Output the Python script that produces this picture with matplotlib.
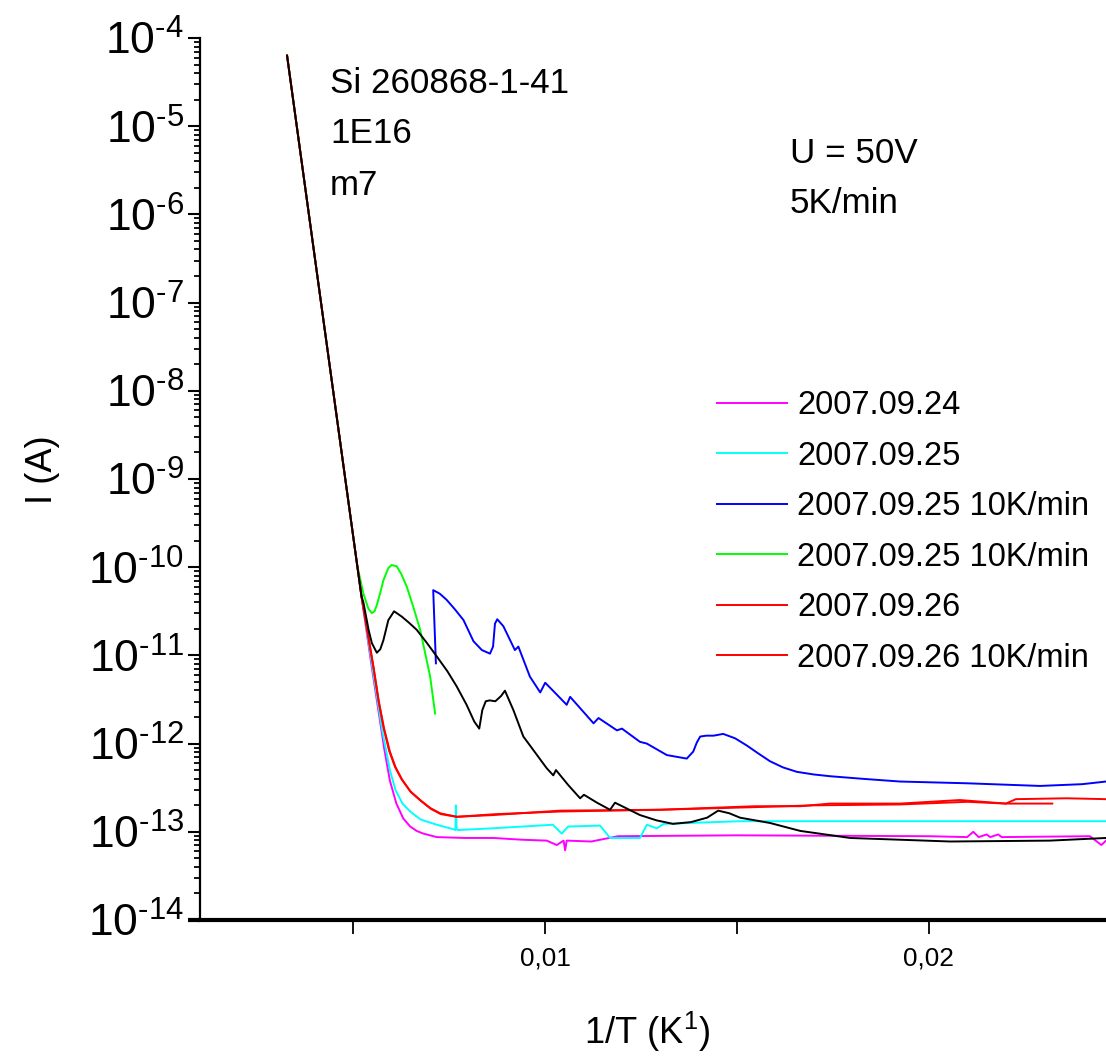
import matplotlib
matplotlib.use("Agg")
import matplotlib.pyplot as plt
from matplotlib import font_manager
from matplotlib.ticker import FixedLocator, LogLocator, FuncFormatter, NullFormatter
import numpy as np

# --- data (1/T in K^-1, log10 of current in A) ---
steep_x = [0.00327, 0.00400, 0.00480, 0.00521]
steep_log = [-4.20, -6.51, -9.04, -10.33]

magenta_x = steep_x + [0.00545, 0.00565, 0.00580, 0.00595, 0.00612, 0.00630, 0.00648, 0.00665, 0.00682,
                       0.00717, 0.00790, 0.00865, 0.00940, 0.01004, 0.01030, 0.01048, 0.01052, 0.01056,
                       0.01120, 0.01190, 0.01500, 0.02000, 0.02100, 0.02116, 0.02130, 0.02151, 0.02160,
                       0.02181, 0.02190, 0.02420, 0.02450, 0.02462]
magenta_log = steep_log + [-11.05, -11.62, -12.05, -12.42, -12.68, -12.85, -12.94, -12.99, -13.02,
                           -13.06, -13.07, -13.07, -13.09, -13.10, -13.15, -13.10, -13.21, -13.10,
                           -13.11, -13.05, -13.04, -13.05, -13.06, -13.00, -13.06, -13.03, -13.06,
                           -13.03, -13.06, -13.05, -13.15, -13.10]

cyan_x = steep_x + [0.00550, 0.00575, 0.00595, 0.00610, 0.00628, 0.00648, 0.00675, 0.00717, 0.00760,
                    0.00766, 0.00767, 0.00769, 0.00772, 0.00865, 0.01020, 0.01043, 0.01060, 0.01143,
                    0.01169, 0.01247, 0.01265, 0.01291, 0.01309, 0.01508, 0.02000, 0.02462]
cyan_log = steep_log + [-11.15, -11.85, -12.30, -12.53, -12.68, -12.77, -12.86, -12.92, -12.97,
                        -12.98, -12.70, -12.97, -12.98, -12.96, -12.92, -13.02, -12.94, -12.93,
                        -13.07, -13.07, -12.92, -12.96, -12.91, -12.88, -12.88, -12.88]

blue_x = [0.00715, 0.00708, 0.00725, 0.00743, 0.00765, 0.00787, 0.00813, 0.00835, 0.00856, 0.00864,
          0.00869, 0.00875, 0.00891, 0.00921, 0.00930, 0.00960, 0.00987, 0.01000, 0.01018, 0.01056,
          0.01065, 0.01126, 0.01139, 0.01187, 0.01200, 0.01247, 0.01265, 0.01317, 0.01369, 0.01386,
          0.01395, 0.01404, 0.01420, 0.01439, 0.01464, 0.01495, 0.01525, 0.01555, 0.01586, 0.01620,
          0.01656, 0.01700, 0.01743, 0.01830, 0.01925, 0.02100, 0.02290, 0.02400, 0.02462]
blue_log = [-11.09, -10.26, -10.30, -10.37, -10.48, -10.60, -10.84, -10.94, -10.98, -10.90,
            -10.64, -10.59, -10.67, -10.94, -10.90, -11.24, -11.42, -11.31, -11.39, -11.56,
            -11.47, -11.77, -11.71, -11.85, -11.83, -11.98, -12.00, -12.13, -12.17, -12.09,
            -11.99, -11.92, -11.91, -11.91, -11.89, -11.94, -12.02, -12.11, -12.20, -12.27,
            -12.32, -12.35, -12.37, -12.40, -12.43, -12.45, -12.48, -12.46, -12.43]

green_x = steep_x[:3] + [0.00509, 0.00526, 0.00539, 0.00548, 0.00555, 0.00561, 0.00570, 0.00578, 0.00591,
                         0.005995, 0.00613, 0.00625, 0.00639, 0.00656, 0.00674, 0.00700, 0.00713]
green_log = steep_log[:3] + [-9.96, -10.30, -10.47, -10.52, -10.50, -10.43, -10.29, -10.15, -10.01,
                             -9.975, -9.99, -10.08, -10.22, -10.45, -10.71, -11.24, -11.66]

red_x = steep_x + [0.00552, 0.00565, 0.00578, 0.00593, 0.00608, 0.00625, 0.00648, 0.00674, 0.00700,
                   0.00726, 0.00769, 0.00865, 0.01039, 0.01300, 0.01547, 0.01665, 0.01743, 0.01925,
                   0.02081, 0.02201, 0.02227, 0.02360, 0.02462]
red_log = steep_log + [-11.13, -11.50, -11.81, -12.08, -12.26, -12.40, -12.54, -12.64, -12.73,
                       -12.79, -12.83, -12.81, -12.76, -12.75, -12.71, -12.71, -12.68, -12.68,
                       -12.64, -12.68, -12.63, -12.62, -12.63]

red2_x = steep_x + [0.00553, 0.00566, 0.00580, 0.00595, 0.00610, 0.00627, 0.00650, 0.00676, 0.00702,
                    0.00728, 0.00770, 0.00870, 0.01040, 0.01300, 0.01550, 0.01700, 0.01925, 0.02100,
                    0.02200, 0.02322]
red2_log = steep_log + [-11.15, -11.52, -11.83, -12.09, -12.27, -12.41, -12.55, -12.65, -12.74,
                        -12.80, -12.83, -12.80, -12.77, -12.75, -12.72, -12.70, -12.69, -12.66,
                        -12.68, -12.68]

black_x = steep_x + [0.00526, 0.00540, 0.00548, 0.00561, 0.00570, 0.00578, 0.00591, 0.00606, 0.00626,
                     0.00645, 0.00665, 0.00690, 0.00717, 0.00745, 0.00769, 0.00795, 0.00815, 0.00828,
                     0.00836, 0.00845, 0.00855, 0.00870, 0.00885, 0.00895, 0.00917, 0.00943, 0.00960,
                     0.01004, 0.01021, 0.01028, 0.01060, 0.01091, 0.01101, 0.01135, 0.01169, 0.01182,
                     0.01247, 0.01290, 0.01333, 0.01380, 0.01422, 0.01451, 0.01480, 0.01508, 0.01586,
                     0.01665, 0.01795, 0.02056, 0.02316, 0.02462]
black_log = steep_log + [-10.40, -10.72, -10.86, -10.97, -10.93, -10.83, -10.60, -10.50, -10.56,
                         -10.63, -10.71, -10.85, -11.01, -11.18, -11.35, -11.56, -11.75, -11.83,
                         -11.62, -11.52, -11.51, -11.52, -11.46, -11.40, -11.62, -11.92, -12.02,
                         -12.28, -12.36, -12.30, -12.47, -12.62, -12.58, -12.67, -12.75, -12.67,
                         -12.81, -12.87, -12.91, -12.89, -12.84, -12.76, -12.79, -12.84, -12.90,
                         -12.99, -13.07, -13.11, -13.10, -13.07]

series = [
    (magenta_x, magenta_log, "#ff00ff", "2007.09.24"),
    (cyan_x, cyan_log, "#00ffff", "2007.09.25"),
    (blue_x, blue_log, "#0000ff", "2007.09.25 10K/min"),
    (green_x, green_log, "#00ff00", "2007.09.25 10K/min"),
    (red_x, red_log, "#ff0000", "2007.09.26"),
    (red2_x, red2_log, "#ff0000", "2007.09.26 10K/min"),
    (black_x, black_log, "#000000", None),
]

x_major = [0.01, 0.02]
x_minor = [0.005, 0.015]

# --- fonts: narrow Arial-like if available ---
names = {f.name for f in font_manager.fontManager.ttflist}
NARROW = "Liberation Sans Narrow" in names
FONT = "Liberation Sans Narrow" if NARROW else "Liberation Sans"
k = 1.0 if NARROW else 0.9
plt.rcParams["font.family"] = [FONT, "DejaVu Sans"]
plt.rcParams["mathtext.fontset"] = "custom"
plt.rcParams["mathtext.rm"] = FONT


def ylabel_fmt(v, pos):
    n = abs(round(np.log10(v)))
    return "$\\mathregular{10^{\u2010%d}}$" % n


W, H = 1106, 1061
fig = plt.figure(figsize=(W / 100, H / 100), dpi=100)
ax = fig.add_axes([200 / W, (H - 920) / H, 906 / W, (920 - 38) / H])

for xs, logs, color, label in series:
    ax.plot(xs, 10 ** np.array(logs), color=color, lw=1.4, label=label if label else "_nolegend_")

ax.set_yscale("log")
ax.set_xlim(0.001, 0.02462)
ax.set_ylim(1e-14, 1e-4)

ax.spines["top"].set_visible(False)
ax.spines["right"].set_visible(False)
ax.spines["left"].set_linewidth(1.6)
ax.spines["bottom"].set_linewidth(3.0)
ax.plot([-0.013, 0], [0, 0], transform=ax.transAxes, color="black", lw=3.0, clip_on=False,
        solid_capstyle="butt")

ax.xaxis.set_major_locator(FixedLocator(x_major))
ax.xaxis.set_minor_locator(FixedLocator(x_minor))
ax.xaxis.set_major_formatter(FuncFormatter(lambda v, p: f"{v:.2f}".replace(".", ",")))
ax.tick_params(axis="x", which="both", direction="out", length=10, width=1.3, pad=9,
               labelsize=21 * k)

ax.yaxis.set_major_locator(LogLocator(base=10, numticks=20))
ax.yaxis.set_minor_locator(LogLocator(base=10, subs=np.arange(2, 10), numticks=20))
ax.yaxis.set_minor_formatter(NullFormatter())
ax.yaxis.set_major_formatter(FuncFormatter(ylabel_fmt))
ax.tick_params(axis="y", which="major", direction="out", length=8.5, width=1.5, pad=3)
ax.tick_params(axis="y", which="minor", direction="out", length=4.5, width=1.3)
for t in ax.get_yticklabels():
    t.set_fontfamily("Liberation Sans")
    t.set_fontsize(32)

fig.text(42 / W, 1 - 470 / H, "I (A)", rotation=90, ha="center", va="center", fontsize=29 * k)
fig.text(647 / W, 1 - 1032 / H, r"1/T (K$\mathregular{^{1}}$)", ha="center", va="center",
         fontsize=29 * k)

for txt, yb in [("Si 260868-1-41", 93), ("1E16", 143), ("m7", 195)]:
    fig.text(330 / W, 1 - yb / H, txt, ha="left", va="baseline", fontsize=28 * k)
for txt, yb in [("U = 50V", 163), ("5K/min", 213)]:
    fig.text(790 / W, 1 - yb / H, txt, ha="left", va="baseline", fontsize=28 * k)

leg_size = 28 if NARROW else 23.5
ax.legend(loc="upper left", bbox_to_anchor=(717 / W, 1 - 390 / H), bbox_transform=fig.transFigure,
          frameon=False, fontsize=leg_size, handlelength=70 / (leg_size * 1.389),
          handletextpad=10 / (leg_size * 1.389), labelspacing=0.6,
          borderpad=0, borderaxespad=0)

fig.savefig("out.png", dpi=100, facecolor="white")
